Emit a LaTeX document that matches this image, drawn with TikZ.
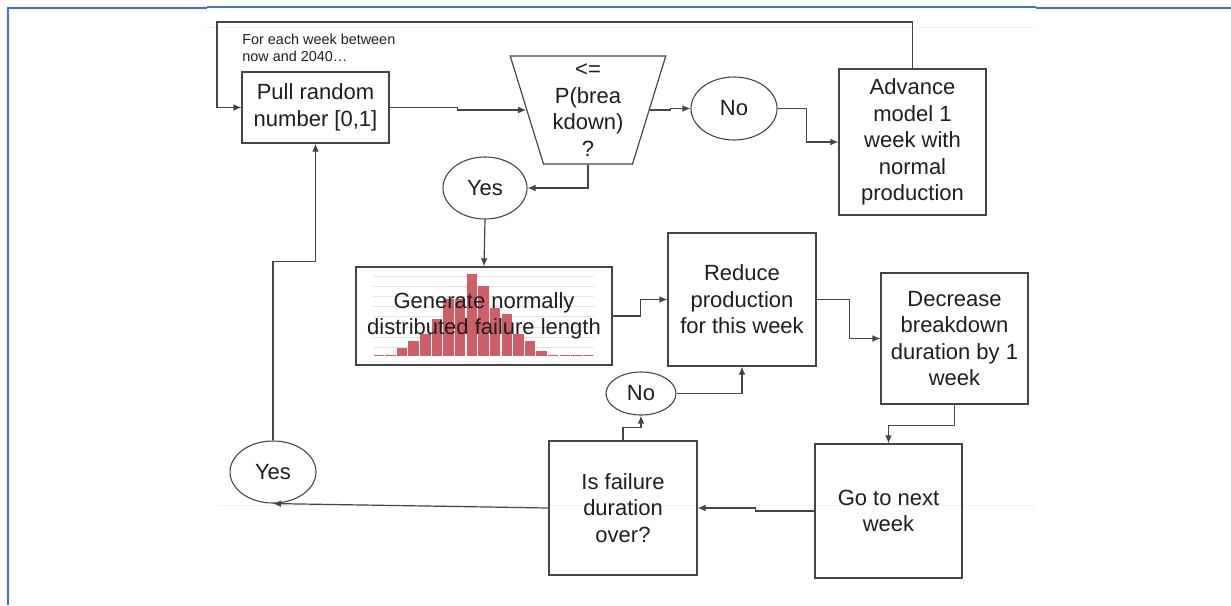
\documentclass[tikz,border=0pt]{standalone}
\usepackage{fontspec}
\setmainfont{Liberation Sans}
\usepackage{tikz}
\usetikzlibrary{arrows.meta,calc,shapes.geometric,positioning}
\usepackage{xcolor}
\definecolor{ink}{HTML}{1E1E1E}
\definecolor{wire}{HTML}{454545}
\definecolor{frame}{HTML}{4472C4}
\definecolor{bar}{HTML}{CF5F67}
\definecolor{gridgray}{HTML}{E4E4E4}
\tikzset{flowbox/.style={draw=wire,line width=.6pt,align=center,inner sep=0pt,text=ink,font=\fontsize{11}{13.25}\selectfont},answerbubble/.style={ellipse,draw=wire,line width=.55pt,inner sep=0pt,text=ink,font=\fontsize{11}{13.25}\selectfont},testshape/.style={trapezium,trapezium left angle=106,trapezium right angle=106,trapezium stretches=true,draw=wire,line width=.6pt,align=center,inner sep=0pt,text=ink,font=\fontsize{11}{13.25}\selectfont},flowline/.style={draw=wire,line width=.6pt},note/.style={font=\fontsize{7.2}{8.5}\selectfont,align=left,text=ink,inner sep=0pt},framerule/.style={draw=frame}}

\begin{document}
\begin{tikzpicture}[x=0.5pt,y=-0.5pt,>={Latex[length=4pt,width=3.4pt]}]
\useasboundingbox (0,0) rectangle (1231,605);
% page frame
\draw[framerule,line width=1pt] (8,605) -- (8,8) -- (207,8);
\draw[framerule,line width=.6pt] (207,7) -- (1036,7);
\draw[framerule,line width=1pt] (1036,8) -- (1231,8);
\draw[gray!10,line width=.5pt] (207,27) -- (1036,27) (217,505) -- (1036,505);
% boxes
\node[flowbox,minimum width=73.5pt,minimum height=35.5pt] (pull) at (315.5,107.5) {Pull random\\number [0,1]};
\node[testshape,minimum width=78pt,minimum height=54pt] (test) at (588,110) {<=\\P(brea\\kdown)\\?};
\node[answerbubble,minimum width=43pt,minimum height=31.5pt] (no1) at (734,108.5) {No};
\node[flowbox,minimum width=73.5pt,minimum height=73pt] (advance) at (912.5,142) {Advance\\model 1\\week with\\normal\\production};
\node[answerbubble,minimum width=42pt,minimum height=31pt] (yes1) at (485,188) {Yes};
% histogram behind the text
\foreach \g in {0,...,7}
  \draw[gridgray,line width=.5pt] (373,276.5+10.1*\g) -- (594,276.5+10.1*\g);
\foreach \h [count=\i] in {1.3,1.3,8,15,22,37,57,57,82,70,48,42,22,15,4.7,1.3,1.3,1.3,1.3}
  \fill[bar] (373+11.63*\i-11.03,356) rectangle (373+11.63*\i-0.6,356-\h);
\node[flowbox,minimum width=128pt,minimum height=49pt] (generate) at (484,316) {Generate normally\\distributed failure length};
\node[flowbox,minimum width=74pt,minimum height=66.5pt] (reduce) at (742,299.5) {Reduce\\production\\for this week};
\node[flowbox,minimum width=73.5pt,minimum height=65.5pt] (decrease) at (954.5,338.5) {Decrease\\breakdown\\duration by 1\\week};
\node[flowbox,minimum width=73.5pt,minimum height=67pt] (gonext) at (888.5,511) {Go to next\\week};
\node[flowbox,minimum width=74pt,minimum height=67pt] (isover) at (623,508) {Is failure\\duration\\over?};
\node[answerbubble,minimum width=35pt,minimum height=21.5pt] (no2) at (641,393.5) {No};
\node[answerbubble,minimum width=43pt,minimum height=31pt] (yes2) at (273,472) {Yes};
\node[note,anchor=north west] (weeknote) at (242,34) {For each week between\\now and 2040…};
% connectors
\coordinate (looptop) at (217,22);
\draw[->,flowline] (advance.north) |- (looptop) |- (pull.west);
\draw[->,flowline] (pull.east) -- ++(68,0) |- (test.west);
\draw[->,flowline] (test.east) -- ++(21,0) |- (no1.west);
\draw[->,flowline] (no1.east) -- ++(29,0) |- (advance.west);
\draw[->,flowline] (test.south) |- (yes1.east);
\draw[->,flowline] (yes1.south) -- (generate.north);
\draw[->,flowline] (generate.east) -- ++(28,0) |- (reduce.west);
\draw[->,flowline] (reduce.east) -- ++(33,0) |- (decrease.west);
\draw[->,flowline] (decrease.south) -- ++(0,21) -| (gonext.north);
\draw[->,flowline] (gonext.west) -- ++(-59,0) |- (isover.east);
\draw[->,flowline] (isover.north) -- ++(0,-13) -| (no2.south);
\draw[->,flowline] (no2.east) -| (reduce.south);
\draw[->,flowline] (isover.west) -- (yes2.south);
\draw[->,flowline] (yes2.north) -- ++(0,-179) -| (pull.south);
\end{tikzpicture}
\end{document}
